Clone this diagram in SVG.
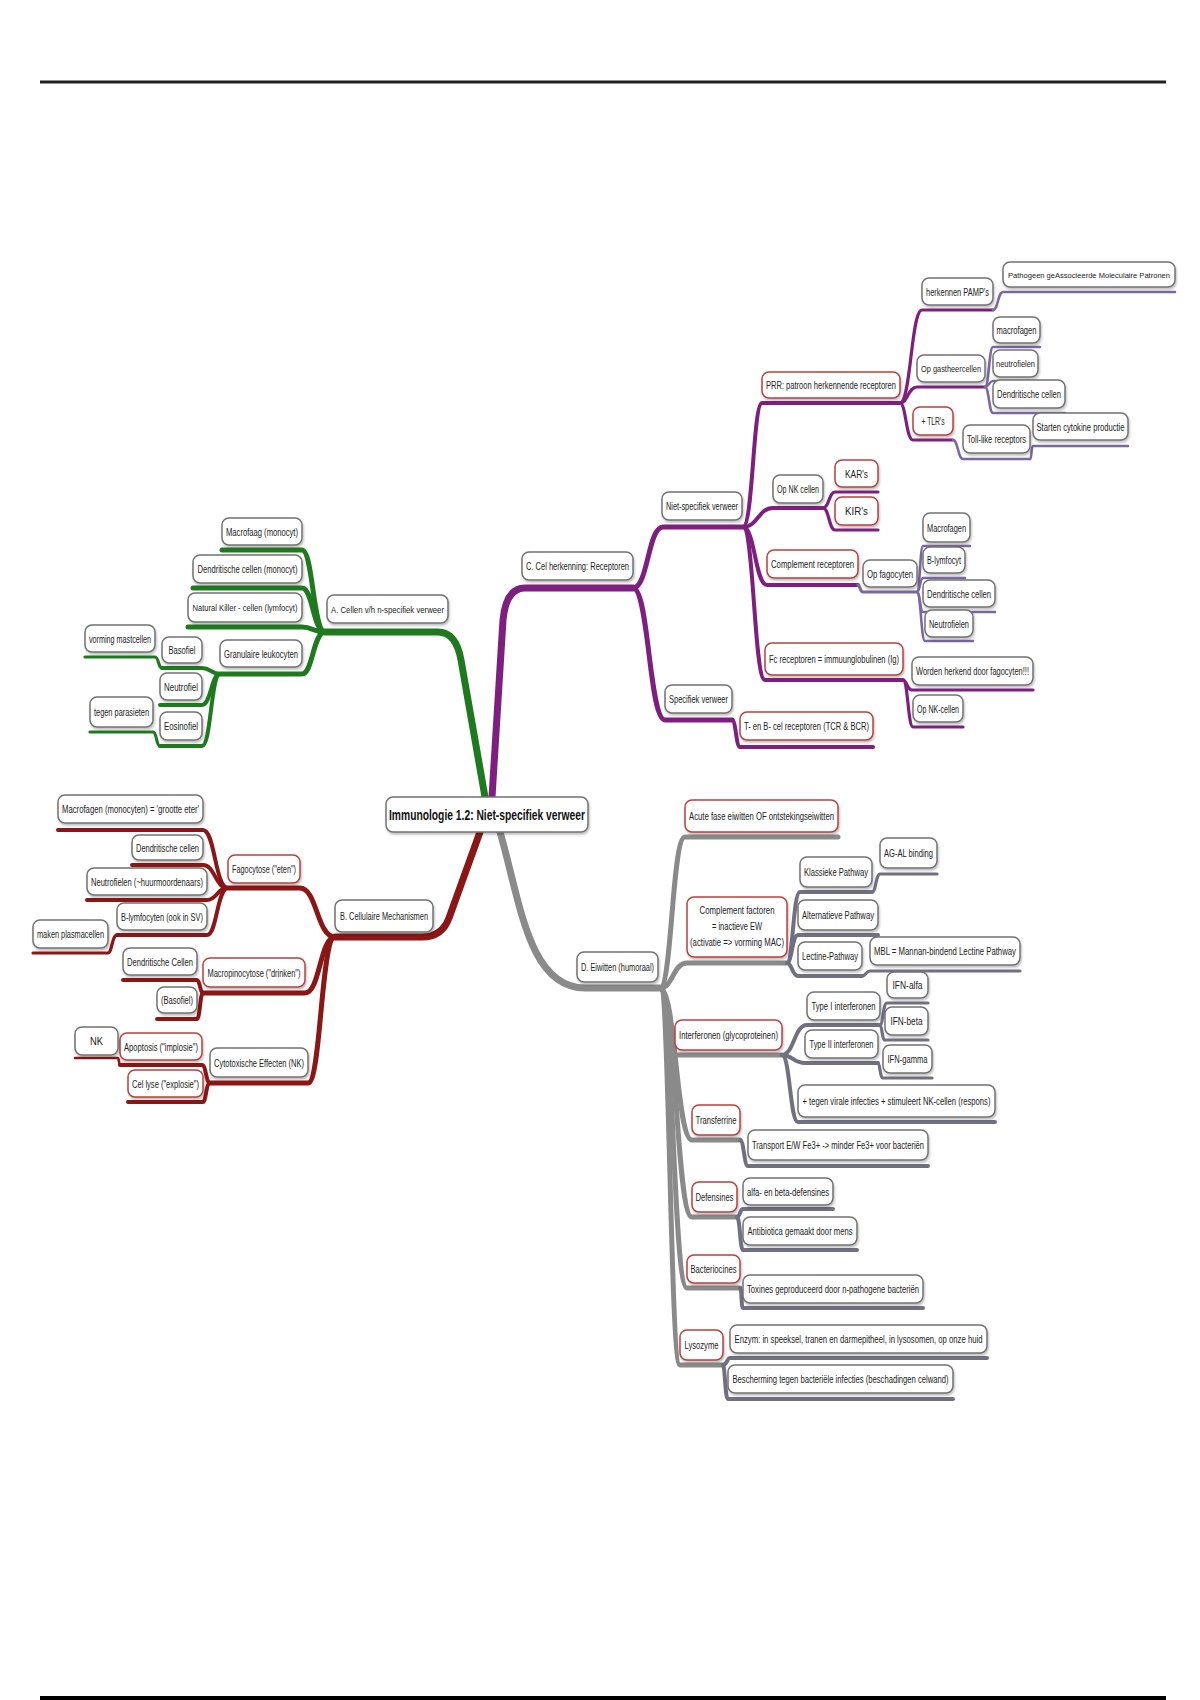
<svg xmlns="http://www.w3.org/2000/svg" width="1200" height="1700" viewBox="0 0 1200 1700">
<defs>
<filter id="sh" x="-10%" y="-20%" width="120%" height="160%"><feDropShadow dx="1" dy="2" stdDeviation="1" flood-color="#000" flood-opacity="0.25"/></filter>
</defs>
<style>
.n rect{fill:#fff;stroke:#727272;stroke-width:1.5;filter:url(#sh)}
.r rect{stroke:#b8403f}
text{font-family:"Liberation Sans",Arial,sans-serif;font-size:11.5px;fill:#222;text-anchor:middle}
text.s{font-size:9.5px}
text.xs{font-size:8px}
.t text{font-size:15px;font-weight:bold;fill:#111}
#connectors path{fill:none;stroke-linecap:round;stroke-linejoin:round}
.cg{stroke:#1f7a1f}.cr{stroke:#8a1616}.cp{stroke:#7e1f80}.cpl{stroke:#7a68a0}.cx{stroke:#8a8a8a}.cxl{stroke:#707080}
.w7{stroke-width:7}.w5{stroke-width:5}.w4{stroke-width:4}.w3{stroke-width:3.2}.w2{stroke-width:2.6}
</style>
<rect width="1200" height="1700" fill="#fff"/>
<line x1="40" y1="82" x2="1166" y2="82" stroke="#222" stroke-width="3"/>
<line x1="40" y1="1698" x2="1166" y2="1698" stroke="#000" stroke-width="4"/>

<g id="connectors">
<path class="cg w7" d="M485 797 L461 660 Q456 632 438 632 H325"/>
<path class="cp w7" d="M492 797 L503 620 Q506 588 525 588 H633"/>
<path class="cr w7" d="M480 832 L449 918 Q442 937 422 937 H335"/>
<path class="cx w7" d="M500 832 C520 900 528 988 585 988 H660"/>
<path class="cp w5" d="M633 588 C648 588 648 527 663 527 H743"/>
<path class="cp w5" d="M633 588 C649 588 649 720 665 720 H732"/>
<path class="cp w4" d="M732 720 C736 720 736 747 740 747 H873"/>
<path class="cp w4" d="M743 527 C753 527 753 403 762 403 H900"/>
<path class="cp w4" d="M743 527 C758 527 758 508 773 508 H823"/>
<path class="cp w4" d="M743 527 C755 527 755 585 767 585 H858"/>
<path class="cp w4" d="M743 527 C754 527 754 680 765 680 H903"/>
<path class="cp w3" d="M900 403 C911 403 911 310 922 310 H993"/>
<path class="cp w3" d="M900 403 C908 403 908 387 917 387 H985"/>
<path class="cp w3" d="M900 403 C906 403 906 440 913 440 H953"/>
<path class="cpl w2" d="M993 310 C998 310 998 292 1003 292 H1175"/>
<path class="cpl w2" d="M985 387 C989 387 989 347 993 347 H1040"/>
<path class="cpl w2" d="M985 387 C989 387 989 381 993 381 H1038"/>
<path class="cpl w2" d="M985 387 C989 387 989 413 993 413 H1065"/>
<path class="cpl w2" d="M953 440 C958 440 958 459 963 459 H1030"/>
<path class="cpl w2" d="M1030 459 C1032 459 1031 446 1033 446 H1128"/>
<path class="cp w3" d="M823 508 C829 508 829 492 835 492 H878"/>
<path class="cp w3" d="M823 508 C829 508 829 530 835 530 H878"/>
<path class="cpl w3" d="M858 585 C860 585 860 592 863 592 H917"/>
<path class="cpl w2" d="M917 592 C920 592 920 546 923 546 H970"/>
<path class="cpl w2" d="M917 592 C920 592 920 578 923 578 H965"/>
<path class="cpl w2" d="M917 592 C920 592 920 612 923 612 H995"/>
<path class="cpl w2" d="M917 592 C921 592 921 641 925 641 H973"/>
<path class="cp w3" d="M903 680 C907 680 907 690 912 690 H1033"/>
<path class="cp w3" d="M903 680 C908 680 908 727 913 727 H963"/>
<path class="cg w5" d="M325 632 C313 632 313 550 302 550 H222"/>
<path class="cg w5" d="M325 632 C313 632 313 588 302 588 H193"/>
<path class="cg w5" d="M325 632 C313 632 313 627 302 627 H188"/>
<path class="cg w5" d="M325 632 C313 632 313 674 302 674 H220"/>
<path class="cg w4" d="M220 674 C211 674 211 668 202 668 H162"/>
<path class="cg w4" d="M220 674 C211 674 211 705 202 705 H160"/>
<path class="cg w4" d="M220 674 C211 674 211 746 202 746 H160"/>
<path class="cg w3" d="M162 668 C158 668 159 657 155 657 H85"/>
<path class="cg w3" d="M160 746 C156 746 157 732 153 732 H90"/>
<path class="cr w5" d="M335 937 C317 937 317 888 300 888 H228"/>
<path class="cr w5" d="M335 937 C320 937 320 993 305 993 H203"/>
<path class="cr w5" d="M335 937 C321 937 321 1083 308 1083 H210"/>
<path class="cr w4" d="M228 888 C215 888 215 830 203 830 H58"/>
<path class="cr w4" d="M228 888 C215 888 215 865 203 865 H132"/>
<path class="cr w4" d="M228 888 C217 888 217 900 207 900 H87"/>
<path class="cr w4" d="M228 888 C217 888 217 935 207 935 H117"/>
<path class="cr w3" d="M117 935 C112 935 112 953 108 953 H33"/>
<path class="cr w4" d="M203 993 C200 993 200 980 197 980 H123"/>
<path class="cr w4" d="M203 993 C200 993 200 1019 197 1019 H157"/>
<path class="cr w4" d="M210 1083 C206 1083 206 1065 202 1065 H120"/>
<path class="cr w4" d="M210 1083 C206 1083 206 1102 203 1102 H128"/>
<path class="cr w2" d="M120 1065 C119 1065 119 1058 118 1058 H75"/>
<path class="cx w5" d="M660 988 C672 988 672 837 685 837 H838"/>
<path class="cx w5" d="M660 988 C673 988 673 963 687 963 H787"/>
<path class="cx w5" d="M660 988 C668 988 668 1055 675 1055 H782"/>
<path class="cx w5" d="M660 988 C676 988 676 1140 692 1140 H740"/>
<path class="cx w5" d="M660 988 C676 988 676 1217 692 1217 H737"/>
<path class="cx w5" d="M660 988 C673 988 673 1288 687 1288 H740"/>
<path class="cx w5" d="M660 988 C670 988 670 1365 680 1365 H723"/>
<path class="cxl w4" d="M787 963 C793 963 793 892 800 892 H872"/>
<path class="cxl w4" d="M787 963 C792 963 792 935 798 935 H878"/>
<path class="cxl w4" d="M787 963 C792 963 792 976 798 976 H862"/>
<path class="cxl w3" d="M872 892 C876 892 876 874 880 874 H937"/>
<path class="cxl w3" d="M862 976 C866 976 866 971 870 971 H1020"/>
<path class="cxl w4" d="M782 1055 C794 1055 794 1025 807 1025 H880"/>
<path class="cxl w4" d="M782 1055 C793 1055 793 1063 805 1063 H878"/>
<path class="cxl w4" d="M782 1055 C790 1055 790 1122 798 1122 H995"/>
<path class="cxl w3" d="M880 1025 C883 1025 883 1003 887 1003 H928"/>
<path class="cxl w3" d="M880 1025 C882 1025 882 1040 885 1040 H928"/>
<path class="cxl w3" d="M878 1063 C880 1063 880 1078 883 1078 H932"/>
<path class="cxl w4" d="M740 1140 C744 1140 744 1166 748 1166 H928"/>
<path class="cxl w4" d="M737 1217 C740 1217 740 1209 743 1209 H833"/>
<path class="cxl w4" d="M737 1217 C740 1217 740 1250 743 1250 H857"/>
<path class="cxl w4" d="M740 1288 C742 1288 741 1308 743 1308 H923"/>
<path class="cxl w4" d="M723 1365 C727 1365 727 1358 730 1358 H987"/>
<path class="cxl w4" d="M723 1365 C725 1365 725 1399 728 1399 H953"/>
</g>

<g id="nodes">
<g id="center" class="n t"><rect x="386" y="797" width="202" height="35" rx="7"/><text x="487" y="820" textLength="196" lengthAdjust="spacingAndGlyphs">Immunologie 1.2: Niet-specifiek verweer</text></g>

<g id="nA" class="n"><rect x="327" y="595" width="121" height="28" rx="7"/><text class="s" x="387.5" y="612.5" textLength="113" lengthAdjust="spacingAndGlyphs">A. Cellen v/h n-specifiek verweer</text></g>
<g id="nA1" class="n"><rect x="222" y="518" width="80" height="27" rx="7"/><text x="262" y="535.5" textLength="72" lengthAdjust="spacingAndGlyphs">Macrofaag (monocyt)</text></g>
<g id="nA2" class="n"><rect x="193" y="555" width="109" height="28" rx="7"/><text x="247.5" y="573" textLength="100" lengthAdjust="spacingAndGlyphs">Dendritische cellen (monocyt)</text></g>
<g id="nA3" class="n"><rect x="188" y="593" width="114" height="29" rx="7"/><text class="s" x="245" y="611" textLength="105" lengthAdjust="spacingAndGlyphs">Natural Killer - cellen (lymfocyt)</text></g>
<g id="nA4" class="n"><rect x="220" y="640" width="82" height="27" rx="7"/><text x="261" y="657.5" textLength="74" lengthAdjust="spacingAndGlyphs">Granulaire leukocyten</text></g>
<g id="nA41" class="n"><rect x="162" y="637" width="40" height="26" rx="7"/><text x="182" y="654" textLength="27" lengthAdjust="spacingAndGlyphs">Basofiel</text></g>
<g id="nA42" class="n"><rect x="160" y="673" width="42" height="27" rx="7"/><text x="181" y="690.5" textLength="34" lengthAdjust="spacingAndGlyphs">Neutrofiel</text></g>
<g id="nA43" class="n"><rect x="160" y="712" width="42" height="28" rx="7"/><text x="181" y="730" textLength="34" lengthAdjust="spacingAndGlyphs">Eosinofiel</text></g>
<g id="nA411" class="n"><rect x="85" y="625" width="70" height="27" rx="7"/><text x="120" y="642.5" textLength="62" lengthAdjust="spacingAndGlyphs">vorming mastcellen</text></g>
<g id="nA431" class="n"><rect x="90" y="697" width="63" height="30" rx="7"/><text x="121.5" y="716" textLength="55" lengthAdjust="spacingAndGlyphs">tegen parasieten</text></g>

<g id="nB" class="n"><rect x="335" y="900" width="98" height="32" rx="7"/><text x="384" y="920" textLength="88" lengthAdjust="spacingAndGlyphs">B. Cellulaire Mechanismen</text></g>
<g id="nB1" class="n r"><rect x="228" y="855" width="72" height="28" rx="7"/><text x="264" y="873" textLength="64" lengthAdjust="spacingAndGlyphs">Fagocytose ("eten")</text></g>
<g id="nB11" class="n"><rect x="58" y="795" width="145" height="28" rx="7"/><text x="130.5" y="813" textLength="137" lengthAdjust="spacingAndGlyphs">Macrofagen (monocyten) = 'grootte eter'</text></g>
<g id="nB12" class="n"><rect x="132" y="835" width="71" height="25" rx="7"/><text x="167.5" y="851.5" textLength="63" lengthAdjust="spacingAndGlyphs">Dendritische cellen</text></g>
<g id="nB13" class="n"><rect x="87" y="868" width="120" height="27" rx="7"/><text x="147" y="885.5" textLength="112" lengthAdjust="spacingAndGlyphs">Neutrofielen (~huurmoordenaars)</text></g>
<g id="nB14" class="n"><rect x="117" y="903" width="90" height="27" rx="7"/><text x="162" y="920.5" textLength="82" lengthAdjust="spacingAndGlyphs">B-lymfocyten (ook in SV)</text></g>
<g id="nB141" class="n"><rect x="33" y="920" width="75" height="28" rx="7"/><text x="70.5" y="938" textLength="67" lengthAdjust="spacingAndGlyphs">maken plasmacellen</text></g>
<g id="nB2" class="n r"><rect x="203" y="958" width="102" height="29" rx="7"/><text x="254" y="976.5" textLength="93" lengthAdjust="spacingAndGlyphs">Macropinocytose ("drinken")</text></g>
<g id="nB21" class="n"><rect x="123" y="948" width="74" height="27" rx="7"/><text x="160" y="965.5" textLength="66" lengthAdjust="spacingAndGlyphs">Dendritische Cellen</text></g>
<g id="nB22" class="n"><rect x="157" y="987" width="40" height="26" rx="7"/><text x="177" y="1004" textLength="32" lengthAdjust="spacingAndGlyphs">(Basofiel)</text></g>
<g id="nB3" class="n"><rect x="210" y="1048" width="98" height="29" rx="7"/><text x="259" y="1066.5" textLength="90" lengthAdjust="spacingAndGlyphs">Cytotoxische Effecten (NK)</text></g>
<g id="nB31" class="n r"><rect x="120" y="1033" width="82" height="27" rx="7"/><text x="161" y="1050.5" textLength="74" lengthAdjust="spacingAndGlyphs">Apoptosis ("implosie")</text></g>
<g id="nB32" class="n r"><rect x="128" y="1070" width="75" height="27" rx="7"/><text x="165.5" y="1087.5" textLength="67" lengthAdjust="spacingAndGlyphs">Cel lyse ("explosie")</text></g>
<g id="nB311" class="n"><rect x="75" y="1027" width="43" height="28" rx="7"/><text x="96.5" y="1045" textLength="13" lengthAdjust="spacingAndGlyphs">NK</text></g>

<g id="nC" class="n"><rect x="522" y="552" width="111" height="28" rx="7"/><text x="577.5" y="570" textLength="103" lengthAdjust="spacingAndGlyphs">C. Cel herkenning: Receptoren</text></g>
<g id="nC1" class="n"><rect x="662" y="492" width="80" height="28" rx="7"/><text x="702" y="510" textLength="72" lengthAdjust="spacingAndGlyphs">Niet-specifiek verweer</text></g>
<g id="nC2" class="n"><rect x="665" y="685" width="67" height="28" rx="7"/><text x="698.5" y="703" textLength="59" lengthAdjust="spacingAndGlyphs">Specifiek verweer</text></g>
<g id="nC21" class="n r"><rect x="740" y="712" width="133" height="28" rx="7"/><text x="806.5" y="730" textLength="125" lengthAdjust="spacingAndGlyphs">T- en B- cel receptoren (TCR &amp; BCR)</text></g>
<g id="nC11" class="n r"><rect x="762" y="372" width="138" height="26" rx="7"/><text x="831" y="389" textLength="130" lengthAdjust="spacingAndGlyphs">PRR: patroon herkennende receptoren</text></g>
<g id="nC111" class="n"><rect x="922" y="278" width="71" height="27" rx="7"/><text x="957.5" y="295.5" textLength="63" lengthAdjust="spacingAndGlyphs">herkennen PAMP's</text></g>
<g id="nC1111" class="n"><rect x="1003" y="262" width="172" height="25" rx="7"/><text class="xs" x="1089" y="277.5" textLength="162" lengthAdjust="spacingAndGlyphs">Pathogeen geAssocieerde Moleculaire Patronen</text></g>
<g id="nC112" class="n"><rect x="917" y="355" width="68" height="27" rx="7"/><text class="s" x="951" y="372" textLength="60" lengthAdjust="spacingAndGlyphs">Op gastheercellen</text></g>
<g id="nC1121" class="n"><rect x="993" y="317" width="47" height="26" rx="7"/><text x="1016.5" y="334" textLength="40" lengthAdjust="spacingAndGlyphs">macrofagen</text></g>
<g id="nC1122" class="n"><rect x="993" y="350" width="45" height="27" rx="7"/><text class="s" x="1015.5" y="367" textLength="39" lengthAdjust="spacingAndGlyphs">neutrofielen</text></g>
<g id="nC1123" class="n"><rect x="993" y="380" width="72" height="28" rx="7"/><text x="1029" y="398" textLength="64" lengthAdjust="spacingAndGlyphs">Dendritische cellen</text></g>
<g id="nC113" class="n r"><rect x="913" y="407" width="40" height="28" rx="7"/><text x="933" y="425" textLength="23" lengthAdjust="spacingAndGlyphs">+ TLR's</text></g>
<g id="nC1131" class="n"><rect x="963" y="425" width="67" height="28" rx="7"/><text x="996.5" y="443" textLength="59" lengthAdjust="spacingAndGlyphs">Toll-like receptors</text></g>
<g id="nC11311" class="n"><rect x="1033" y="413" width="95" height="27" rx="7"/><text x="1080.5" y="430.5" textLength="88" lengthAdjust="spacingAndGlyphs">Starten cytokine productie</text></g>
<g id="nC12" class="n"><rect x="773" y="475" width="50" height="28" rx="7"/><text x="798" y="493" textLength="42" lengthAdjust="spacingAndGlyphs">Op NK cellen</text></g>
<g id="nC121" class="n r"><rect x="835" y="460" width="43" height="27" rx="7"/><text x="856.5" y="477.5" textLength="23" lengthAdjust="spacingAndGlyphs">KAR's</text></g>
<g id="nC122" class="n r"><rect x="835" y="497" width="43" height="28" rx="7"/><text x="856.5" y="515" textLength="23" lengthAdjust="spacingAndGlyphs">KIR's</text></g>
<g id="nC13" class="n r"><rect x="767" y="550" width="91" height="28" rx="7"/><text x="812.5" y="568" textLength="83" lengthAdjust="spacingAndGlyphs">Complement receptoren</text></g>
<g id="nC131" class="n"><rect x="863" y="560" width="54" height="27" rx="7"/><text x="890" y="577.5" textLength="46" lengthAdjust="spacingAndGlyphs">Op fagocyten</text></g>
<g id="nC1311" class="n"><rect x="923" y="513" width="47" height="29" rx="7"/><text x="946.5" y="531.5" textLength="39" lengthAdjust="spacingAndGlyphs">Macrofagen</text></g>
<g id="nC1312" class="n"><rect x="923" y="547" width="42" height="26" rx="7"/><text x="944" y="564" textLength="34" lengthAdjust="spacingAndGlyphs">B-lymfocyt</text></g>
<g id="nC1313" class="n"><rect x="923" y="580" width="72" height="27" rx="7"/><text x="959" y="597.5" textLength="64" lengthAdjust="spacingAndGlyphs">Dendritische cellen</text></g>
<g id="nC1314" class="n"><rect x="925" y="610" width="48" height="27" rx="7"/><text x="949" y="627.5" textLength="40" lengthAdjust="spacingAndGlyphs">Neutrofielen</text></g>
<g id="nC14" class="n r"><rect x="765" y="643" width="138" height="32" rx="7"/><text x="834" y="663" textLength="130" lengthAdjust="spacingAndGlyphs">Fc receptoren = immuunglobulinen (Ig)</text></g>
<g id="nC141" class="n"><rect x="912" y="657" width="121" height="28" rx="7"/><text x="972.5" y="675" textLength="113" lengthAdjust="spacingAndGlyphs">Worden herkend door fagocyten!!!</text></g>
<g id="nC142" class="n"><rect x="913" y="695" width="50" height="27" rx="7"/><text x="938" y="712.5" textLength="42" lengthAdjust="spacingAndGlyphs">Op NK-cellen</text></g>

<g id="nD" class="n"><rect x="577" y="952" width="81" height="30" rx="7"/><text x="617.5" y="971" textLength="73" lengthAdjust="spacingAndGlyphs">D. Eiwitten (humoraal)</text></g>
<g id="nD1" class="n r"><rect x="685" y="800" width="153" height="32" rx="7"/><text x="761.5" y="820" textLength="145" lengthAdjust="spacingAndGlyphs">Acute fase eiwitten OF ontstekingseiwitten</text></g>
<g id="nD2" class="n r"><rect x="687" y="897" width="100" height="60" rx="7"/><text x="737" y="914" textLength="75" lengthAdjust="spacingAndGlyphs">Complement factoren</text><text x="737" y="930" textLength="50" lengthAdjust="spacingAndGlyphs">= inactieve EW</text><text x="737" y="946" textLength="94" lengthAdjust="spacingAndGlyphs">(activatie =&gt; vorming MAC)</text></g>
<g id="nD21" class="n"><rect x="800" y="857" width="72" height="30" rx="7"/><text x="836" y="876" textLength="64" lengthAdjust="spacingAndGlyphs">Klassieke Pathway</text></g>
<g id="nD211" class="n"><rect x="880" y="838" width="57" height="30" rx="7"/><text x="908.5" y="857" textLength="49" lengthAdjust="spacingAndGlyphs">AG-AL binding</text></g>
<g id="nD22" class="n"><rect x="798" y="900" width="80" height="30" rx="7"/><text x="838" y="919" textLength="72" lengthAdjust="spacingAndGlyphs">Alternatieve Pathway</text></g>
<g id="nD23" class="n"><rect x="798" y="942" width="64" height="28" rx="7"/><text x="830" y="960" textLength="56" lengthAdjust="spacingAndGlyphs">Lectine-Pathway</text></g>
<g id="nD231" class="n"><rect x="870" y="937" width="150" height="28" rx="7"/><text x="945" y="955" textLength="142" lengthAdjust="spacingAndGlyphs">MBL = Mannan-bindend Lectine Pathway</text></g>
<g id="nD3" class="n r"><rect x="675" y="1020" width="107" height="30" rx="7"/><text x="728.5" y="1039" textLength="99" lengthAdjust="spacingAndGlyphs">Interferonen (glycoproteinen)</text></g>
<g id="nD31" class="n"><rect x="807" y="992" width="73" height="28" rx="7"/><text x="843.5" y="1010" textLength="64" lengthAdjust="spacingAndGlyphs">Type I interferonen</text></g>
<g id="nD311" class="n"><rect x="887" y="972" width="41" height="26" rx="7"/><text x="907.5" y="989" textLength="30" lengthAdjust="spacingAndGlyphs">IFN-alfa</text></g>
<g id="nD312" class="n"><rect x="885" y="1007" width="43" height="28" rx="7"/><text x="906.5" y="1025" textLength="32" lengthAdjust="spacingAndGlyphs">IFN-beta</text></g>
<g id="nD32" class="n"><rect x="805" y="1030" width="73" height="28" rx="7"/><text x="841.5" y="1048" textLength="64" lengthAdjust="spacingAndGlyphs">Type II interferonen</text></g>
<g id="nD321" class="n"><rect x="883" y="1045" width="49" height="28" rx="7"/><text x="907.5" y="1063" textLength="40" lengthAdjust="spacingAndGlyphs">IFN-gamma</text></g>
<g id="nD33" class="n"><rect x="798" y="1085" width="197" height="32" rx="7"/><text x="896.5" y="1105" textLength="188" lengthAdjust="spacingAndGlyphs">+ tegen virale infecties + stimuleert NK-cellen (respons)</text></g>
<g id="nD4" class="n r"><rect x="692" y="1105" width="48" height="30" rx="7"/><text x="716" y="1124" textLength="41" lengthAdjust="spacingAndGlyphs">Transferrine</text></g>
<g id="nD41" class="n"><rect x="748" y="1130" width="180" height="30" rx="7"/><text x="838" y="1149" textLength="172" lengthAdjust="spacingAndGlyphs">Transport E/W Fe3+ -&gt; minder Fe3+ voor bacteriën</text></g>
<g id="nD5" class="n r"><rect x="692" y="1182" width="45" height="30" rx="7"/><text x="714.5" y="1201" textLength="38" lengthAdjust="spacingAndGlyphs">Defensines</text></g>
<g id="nD51" class="n"><rect x="743" y="1178" width="90" height="27" rx="7"/><text x="788" y="1195.5" textLength="82" lengthAdjust="spacingAndGlyphs">alfa- en beta-defensines</text></g>
<g id="nD52" class="n"><rect x="743" y="1217" width="114" height="28" rx="7"/><text x="800" y="1235" textLength="105" lengthAdjust="spacingAndGlyphs">Antibiotica gemaakt door mens</text></g>
<g id="nD6" class="n r"><rect x="687" y="1255" width="53" height="28" rx="7"/><text x="713.5" y="1273" textLength="46" lengthAdjust="spacingAndGlyphs">Bacteriocines</text></g>
<g id="nD61" class="n"><rect x="743" y="1275" width="180" height="28" rx="7"/><text x="833" y="1293" textLength="172" lengthAdjust="spacingAndGlyphs">Toxines geproduceerd door n-pathogene bacteriën</text></g>
<g id="nD7" class="n r"><rect x="680" y="1330" width="43" height="30" rx="7"/><text x="701.5" y="1349" textLength="34" lengthAdjust="spacingAndGlyphs">Lysozyme</text></g>
<g id="nD71" class="n"><rect x="730" y="1325" width="257" height="28" rx="7"/><text x="858.5" y="1343" textLength="248" lengthAdjust="spacingAndGlyphs">Enzym: in speeksel, tranen en darmepitheel, in lysosomen, op onze huid</text></g>
<g id="nD72" class="n"><rect x="728" y="1365" width="225" height="28" rx="7"/><text x="840.5" y="1383" textLength="216" lengthAdjust="spacingAndGlyphs">Bescherming tegen bacteriële infecties (beschadingen celwand)</text></g>
</g>
</svg>
